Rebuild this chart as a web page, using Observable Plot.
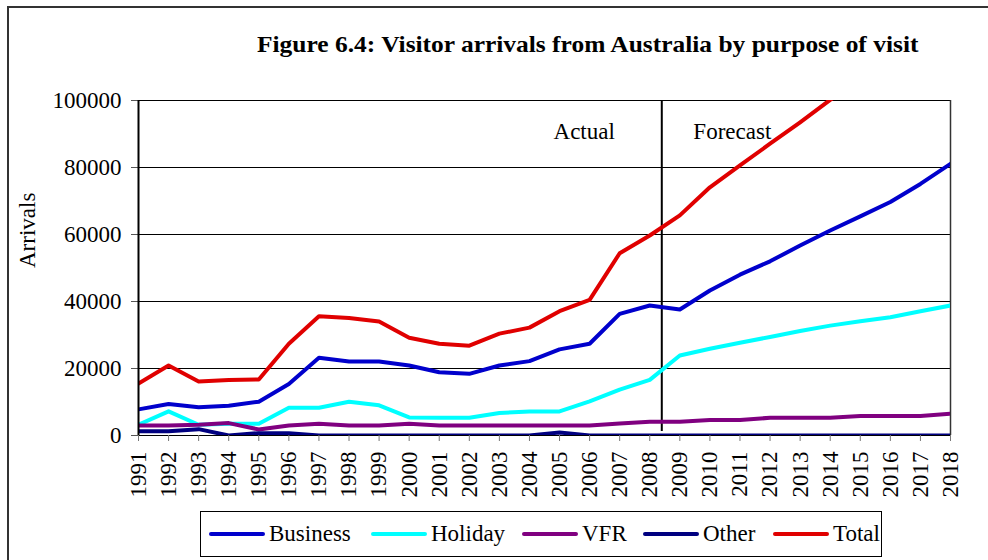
<!DOCTYPE html>
<html>
<head>
<meta charset="utf-8">
<script src="https://cdn.jsdelivr.net/npm/d3@7"></script>
<script src="https://cdn.jsdelivr.net/npm/@observablehq/plot@0.6"></script>
<style>
  html, body { margin: 0; padding: 0; background: white; }
  #wrap { position: relative; width: 988px; height: 560px; overflow: hidden; background: white; font-family: "Liberation Serif", "Times New Roman", serif; }
  #title { position: absolute; left: 257px; top: 32px; font-weight: bold; font-size: 24px; line-height: 24px; white-space: nowrap; color: #000; transform: scaleX(1.06); transform-origin: left top; }
  #chart { position: absolute; left: 0; top: 70px; }
  #legend { position: absolute; left: 200px; top: 511px; width: 682px; height: 46px; border: 1px solid #000; box-sizing: border-box; }
  .item { position: absolute; top: 0; height: 44px; display: flex; align-items: center; font-size: 23px; white-space: nowrap; }
  .swatch { width: 56px; height: 4px; border-radius: 2px; margin-right: 4px; }
  #border { position: absolute; left: 7px; top: 6px; width: 1200px; height: 1000px; border: 2px solid #333; pointer-events: none; }
</style>
</head>
<body>
<div id="wrap">
  <div id="title">Figure 6.4: Visitor arrivals from Australia by purpose of visit</div>
  <div id="chart"></div>
  <div id="legend"></div>
  <div id="border"></div>
</div>
<script>
const years = [1991,1992,1993,1994,1995,1996,1997,1998,1999,2000,2001,2002,2003,2004,2005,2006,2007,2008,2009,2010,2011,2012,2013,2014,2015,2016,2017,2018];
const business = [7800,9400,8400,8900,10100,15400,23200,22100,22100,20900,18900,18400,20900,22200,25700,27400,36300,38800,37600,43300,48000,52000,56700,61200,65400,69700,75100,81100];
const holiday  = [3200,7200,3200,3500,3500,8300,8300,10100,9000,5400,5300,5300,6700,7200,7200,10200,13700,16600,23900,25900,27700,29400,31200,32800,34100,35300,37100,38800];
const vfr      = [3000,3000,3200,3700,1800,3000,3500,3000,3000,3500,3000,3000,3000,3000,3000,3000,3600,4100,4100,4600,4600,5300,5300,5300,5800,5800,5800,6500];
const other    = [1300,1300,1900,0,700,700,0,0,0,0,0,0,0,0,900,0,0,0,0,0,0,0,0,0,0,0,0,0];
const total    = [15500,20900,16100,16600,16700,27400,35600,35100,34000,29200,27400,26800,30400,32200,37100,40500,54400,59700,65700,74100,80600,87100,93500,100200,106000,111500,118000,125000];

const seriesNames  = ["Business","Holiday","VFR","Other","Total"];
const seriesColors = ["#0000CC","#00FFFF","#800080","#000080","#E00000"];
const seriesValues = [business, holiday, vfr, other, total];

const yTicks = [0,20000,40000,60000,80000,100000];
const yTickLabels = ["0","20000","40000","60000","80000","100000"];
const xTickLabels = years.map(String);

const dividerYear = [2008.4];
const annotations = [
  {label: "Actual", x: 2004.8, y: 90800},
  {label: "Forecast", x: 2009.45, y: 90800}
];
const yLabel = "Arrivals";

const data = [];
seriesNames.forEach((name, i) => {
  years.forEach((yr, j) => data.push({series: name, year: yr, value: seriesValues[i][j]}));
});

const chart = Plot.plot({
  width: 988,
  height: 438,
  marginLeft: 138,
  marginRight: 38,
  marginTop: 30,
  marginBottom: 73,
  style: {fontFamily: "Liberation Serif, Times New Roman, serif", fontSize: "23px", color: "#000", background: "transparent"},
  x: {type: "linear", domain: [1991, 2018], label: null},
  y: {domain: [0, 100000], label: null},
  color: {domain: seriesNames, range: seriesColors},
  marks: [
    Plot.ruleY(yTicks, {stroke: "#000", strokeWidth: 1}),
    Plot.ruleX([2018], {stroke: "#333", strokeWidth: 1.5}),
    Plot.axisY({ticks: yTicks, tickFormat: (d) => yTickLabels[yTicks.indexOf(d)], tickSize: 7, tickPadding: 10, stroke: "#555", label: null, fontSize: 23}),
    Plot.axisX({ticks: years, tickFormat: (d) => xTickLabels[years.indexOf(d)], tickSize: 6, tickPadding: 10, tickRotate: -90, stroke: "#777", label: null, fontSize: 23}),
    Plot.ruleX(dividerYear, {y1: 1200, y2: 100000, stroke: "#000", strokeWidth: 2}),
    Plot.line(data, {x: "year", y: "value", z: "series", stroke: "series", strokeWidth: 4, strokeLinejoin: "round", strokeLinecap: "round", clip: true}),
    Plot.ruleX([1991], {stroke: "#000", strokeWidth: 2}),
    Plot.text(annotations, {x: "x", y: "y", text: "label", textAnchor: "start", fontSize: 23, fill: "#000"}),
    Plot.text([yLabel], {frameAnchor: "left", dx: -111, rotate: -90, fontSize: 23, fill: "#000"})
  ]
});
document.getElementById("chart").appendChild(chart);

const legendX = [8, 170, 321, 442, 572];
const legend = document.getElementById("legend");
seriesNames.forEach((name, i) => {
  const item = document.createElement("div");
  item.className = "item";
  item.style.left = legendX[i] + "px";
  const sw = document.createElement("div");
  sw.className = "swatch";
  sw.style.background = seriesColors[i];
  const tx = document.createElement("span");
  tx.textContent = name;
  item.appendChild(sw);
  item.appendChild(tx);
  legend.appendChild(item);
});
</script>
</body>
</html>
